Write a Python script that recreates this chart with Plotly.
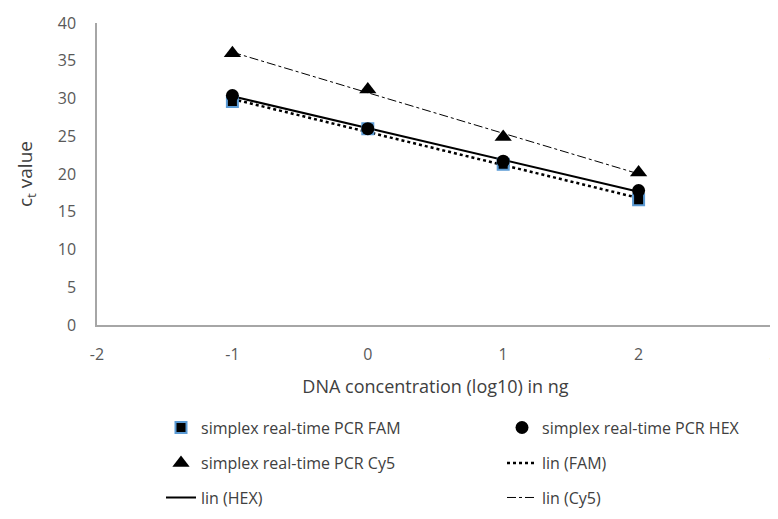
import numpy as np
import plotly.graph_objects as go

x_vals = [-1, 0, 1, 2]
fam_ct = [29.6, 26.0, 21.3, 16.6]
hex_ct = [30.4, 26.0, 21.7, 17.8]
cy5_ct = [36.0, 31.2, 24.9, 20.2]
x_ticks = [-2, -1, 0, 1, 2, 3]
x_tick_labels = ["-2", "-1", "0", "1", "2", "3"]
y_ticks = [0, 5, 10, 15, 20, 25, 30, 35, 40]

def fit(y):
    m, b = np.polyfit(x_vals, y, 1)
    return [m * xv + b for xv in x_vals]

FONT = "Open Sans"
fig = go.Figure()
fig.add_trace(go.Scatter(x=x_vals, y=fit(fam_ct), mode="lines", name="lin (FAM)",
                         line=dict(color="black", width=2.5, dash="dot"), legend="legend4"))
fig.add_trace(go.Scatter(x=x_vals, y=fit(hex_ct), mode="lines", name="lin (HEX)",
                         line=dict(color="black", width=2), legend="legend5"))
fig.add_trace(go.Scatter(x=x_vals, y=fit(cy5_ct), mode="lines", name="lin (Cy5)",
                         line=dict(color="black", width=1, dash="dashdot"), legend="legend6"))
fig.add_trace(go.Scatter(x=x_vals, y=fam_ct, mode="markers", name="simplex real-time PCR FAM",
                         marker=dict(symbol="square", size=11, color="black",
                                     line=dict(color="#5B9BD5", width=2)), legend="legend"))
fig.add_trace(go.Scatter(x=x_vals, y=hex_ct, mode="markers", name="simplex real-time PCR HEX",
                         marker=dict(symbol="circle", size=13, color="black"), legend="legend2"))
fig.add_trace(go.Scatter(x=x_vals, y=cy5_ct, mode="markers", name="simplex real-time PCR Cy5",
                         marker=dict(symbol="triangle-up", size=15, color="black"), legend="legend3"))

R = 12
W = 778 - 89 - R
H = 315.0

def leg(px, py):
    return dict(orientation="v", xanchor="left", yanchor="middle", visible=True,
                x=(px - 89) / W, y=-(py - 330) / H,
                font=dict(family=FONT, size=16, color="#404040"), bgcolor="rgba(0,0,0,0)",
                borderwidth=0)

tick_font = dict(family=FONT, size=16, color="#595959")
fig.update_layout(
    width=778, height=519,
    showlegend=True,
    margin=dict(l=89, r=R, t=15, b=189),
    paper_bgcolor="white", plot_bgcolor="white",
    font=dict(family=FONT, color="#595959"),
    xaxis=dict(range=[x_ticks[0], x_ticks[-1]], tickvals=x_ticks, ticktext=x_tick_labels,
               showgrid=False, zeroline=False,
               showline=True, linecolor="#a6a6a6", linewidth=1.5, ticks="",
               tickfont=tick_font, automargin=False, ticklabelstandoff=14,
               title=dict(text="DNA concentration (log10) in ng", font=dict(size=18, color="#404040"),
                          standoff=16)),
    yaxis=dict(range=[0, 40], tickvals=y_ticks, showgrid=False, zeroline=False,
               showline=True, linecolor="#a6a6a6", linewidth=1.5, ticks="",
               tickfont=tick_font, ticklabelstandoff=16, automargin=False,
               title=dict(text="c<sub>t</sub> value", font=dict(size=19, color="#404040"),
                          standoff=20)),
    legend=leg(153, 437),
    legend2=leg(494, 437),
    legend3=leg(153, 474),
    legend4=leg(494, 474),
    legend5=leg(153, 510),
    legend6=leg(494, 510),
)
fig.write_html("out.html")
